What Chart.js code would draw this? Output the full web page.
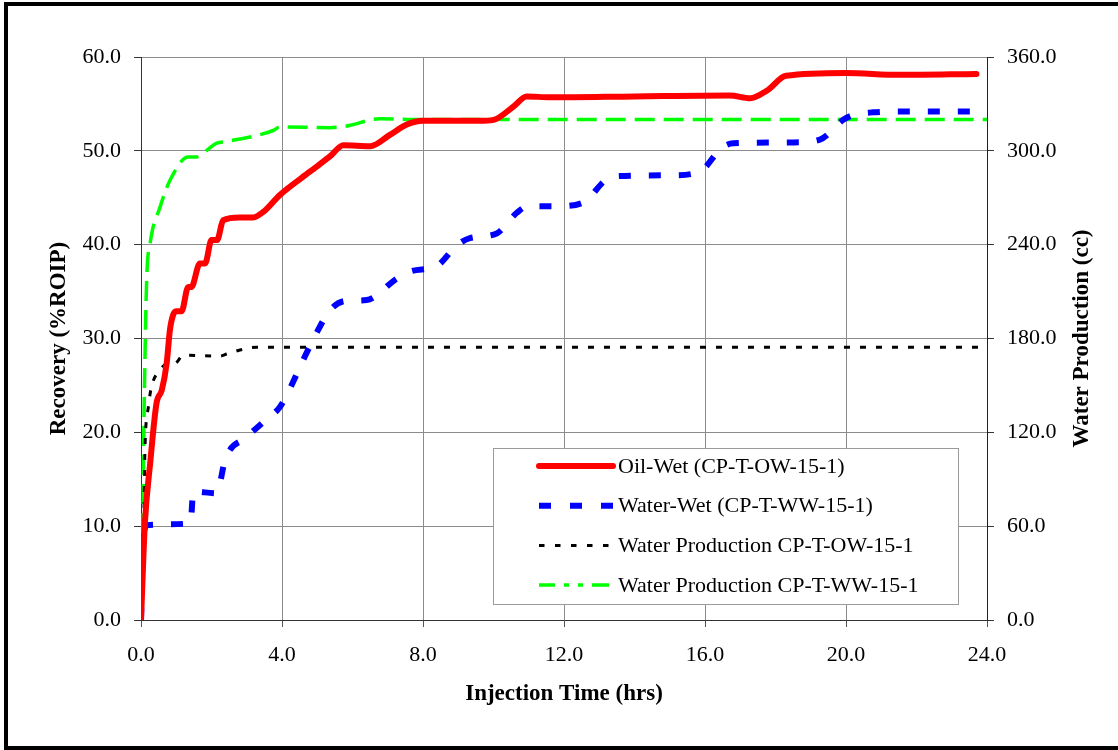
<!DOCTYPE html>
<html>
<head>
<meta charset="utf-8">
<script src="https://cdn.jsdelivr.net/npm/chart.js@4.4.1/dist/chart.umd.min.js"></script>
<style>
  body { margin: 0; background: #fff; }
</style>
</head>
<body>
<canvas id="myChart" width="1118" height="750"></canvas>
<script>
// values
const oilWetTime = [0, 0.11, 0.26, 0.44, 0.59, 0.73, 0.82, 0.92, 1.01, 1.15, 1.34, 1.43, 1.67, 1.82, 2.0, 2.16, 2.33, 2.8, 3.18, 3.47, 3.94, 4.8, 5.36, 5.74, 6.5, 7.06, 7.54, 8.0, 9.6, 10.0, 10.56, 10.94, 11.6, 14.0, 16.7, 17.28, 17.75, 18.3, 20.0, 21.5, 23.7];
const oilWetRecovery = [0, 10.3, 16.7, 23.1, 24.5, 27.4, 30.9, 32.6, 32.9, 32.9, 35.5, 35.5, 38.0, 38.0, 40.5, 40.5, 42.6, 42.9, 42.9, 43.5, 45.3, 47.8, 49.4, 50.6, 50.5, 51.7, 52.8, 53.2, 53.2, 53.3, 54.7, 55.8, 55.7, 55.8, 55.9, 55.6, 56.4, 58.0, 58.3, 58.1, 58.2];

const waterWetTime = [0, 0.06, 0.16, 1.39, 1.43, 1.48, 2.14, 2.24, 2.38, 3.0, 3.47, 3.94, 4.23, 4.6, 4.94, 5.36, 5.8, 6.4, 7.26, 7.68, 8.38, 8.95, 9.33, 10.09, 10.66, 10.98, 11.79, 12.55, 13.16, 13.49, 15.1, 15.86, 16.47, 16.8, 18.5, 19.26, 19.92, 20.2, 20.77, 21.7, 24.0];
const waterWetRecovery = [0, 7.8, 10.1, 10.3, 11.2, 13.7, 13.5, 14.6, 17.0, 19.5, 21.1, 22.7, 24.7, 27.7, 30.3, 33.0, 34.0, 34.1, 36.4, 37.2, 37.7, 39.9, 40.7, 41.2, 43.4, 44.1, 44.1, 44.5, 46.8, 47.3, 47.4, 47.8, 50.3, 50.8, 50.9, 51.2, 53.3, 53.8, 54.1, 54.2, 54.2];

const owWaterTime = [0, 0.07, 0.11, 0.21, 0.3, 0.54, 0.78, 0.96, 1.2, 2.24, 2.43, 2.81, 3.28, 24.0];
const owWaterProd = [0, 46.9, 106.8, 136.4, 149.2, 159.9, 164.1, 164.1, 169.3, 168.8, 170.1, 172.6, 174.4, 174.4];

const wwWaterTime = [0, 0.05, 0.07, 0.11, 0.16, 0.26, 0.54, 0.82, 1.34, 1.53, 2.15, 2.43, 3.75, 3.94, 5.36, 5.84, 6.78, 7.72, 24.0];
const wwWaterProd = [0, 36.3, 100, 164, 217, 241, 264, 281, 296, 296, 305, 306, 313, 315.3, 314.8, 315.9, 320.5, 320, 320];

const seriesLabels = ["Oil-Wet (CP-T-OW-15-1)", "Water-Wet (CP-T-WW-15-1)", "Water Production CP-T-OW-15-1", "Water Production CP-T-WW-15-1"];

const serif = "'Liberation Serif', 'Times New Roman', serif";
Chart.defaults.font.family = serif;
Chart.defaults.color = "#000";

const toPoints = (xs, ys) => xs.map((x, i) => ({ x: x, y: ys[i] }));
const fmt = (v) => Number(v).toFixed(1);

const whiteBg = {
  id: "whiteBg",
  beforeDraw(chart) {
    const c = chart.ctx;
    c.save();
    c.fillStyle = "#fff";
    c.fillRect(0, 0, chart.width, chart.height);
    c.restore();
  },
};

const extras = {
  id: "extras",
  afterDatasetsDraw(chart) {
    const c = chart.ctx;
    c.save();
    // legend box inside the plot
    c.fillStyle = "#fff";
    c.fillRect(493, 448, 465, 156);
    c.strokeStyle = "#9a9a9a";
    c.lineWidth = 1;
    c.strokeRect(493.5, 448.5, 465, 156);
    chart.data.datasets.forEach((ds, i) => {
      const y = 466 + i * 39.7;
      c.beginPath();
      c.setLineDash(ds.legendDash || []);
      c.lineWidth = ds.borderWidth;
      c.strokeStyle = ds.borderColor;
      c.lineCap = ds.borderCapStyle || "butt";
      c.moveTo(539, y);
      c.lineTo(613, y);
      c.stroke();
      c.setLineDash([]);
      c.fillStyle = "#000";
      c.font = "22px " + serif;
      c.textBaseline = "middle";
      c.fillText(ds.label, 618, y + 1);
    });
    // right axis title reads bottom to top
    c.translate(1082, 338.5);
    c.rotate(-Math.PI / 2);
    c.font = "bold 23px " + serif;
    c.textAlign = "center";
    c.textBaseline = "middle";
    c.fillText("Water Production (cc)", 0, 0);
    c.restore();
  },
  afterDraw(chart) {
    const c = chart.ctx;
    c.save();
    c.fillStyle = "#000";
    c.fillRect(4, 2, chart.width, 4);
    c.fillRect(4, 2, 4, 748);
    c.fillRect(4, 746, chart.width, 4);
    c.restore();
  },
};

new Chart(document.getElementById("myChart"), {
  type: "line",
  data: {
    datasets: [
      {
        label: seriesLabels[0],
        data: toPoints(oilWetTime, oilWetRecovery),
        borderColor: "#ff0000",
        borderWidth: 6,
        borderCapStyle: "round",
        yAxisID: "y",
        order: 1,
      },
      {
        label: seriesLabels[1],
        data: toPoints(waterWetTime, waterWetRecovery),
        borderColor: "#0000ff",
        borderWidth: 6,
        borderDash: [12, 18],
        legendDash: [12, 19],
        yAxisID: "y",
        order: 2,
      },
      {
        label: seriesLabels[2],
        data: toPoints(owWaterTime, owWaterProd),
        borderColor: "#000000",
        borderWidth: 3,
        borderDash: [6, 10],
        legendDash: [5.5, 10.5],
        yAxisID: "y1",
        order: 3,
      },
      {
        label: seriesLabels[3],
        data: toPoints(wwWaterTime, wwWaterProd),
        borderColor: "#00ff00",
        borderWidth: 3.5,
        borderDash: [20, 9],
        legendDash: [16, 9, 5, 9, 5, 9, 17],
        yAxisID: "y1",
        order: 4,
      },
    ],
  },
  options: {
    responsive: false,
    animation: false,
    layout: { padding: { left: 45, top: 57, right: 0, bottom: 42 } },
    elements: {
      point: { radius: 0 },
      line: { cubicInterpolationMode: "monotone", fill: false },
    },
    plugins: {
      legend: { display: false },
      tooltip: { enabled: false },
    },
    scales: {
      x: {
        type: "linear",
        min: 0,
        max: 24,
        ticks: { stepSize: 4, callback: fmt, font: { size: 22 }, padding: 15, maxRotation: 0 },
        grid: { color: "#8c8c8c", tickColor: "#555", tickLength: 7 },
        border: { color: "#333" },
        title: { display: true, text: "Injection Time (hrs)", font: { size: 23, weight: "bold" }, padding: 0 },
        afterFit: (s) => { s.height = 88; },
      },
      y: {
        position: "left",
        min: 0,
        max: 60,
        ticks: { stepSize: 10, callback: fmt, font: { size: 22 }, padding: 13 },
        grid: { color: "#8c8c8c", tickColor: "#333", tickLength: 7 },
        border: { color: "#333" },
        title: { display: true, text: "Recovery (%ROIP)", font: { size: 23, weight: "bold" }, padding: 0 },
        afterFit: (s) => { s.width = 96; },
      },
      y1: {
        position: "right",
        min: 0,
        max: 360,
        ticks: { stepSize: 60, callback: fmt, font: { size: 22 }, padding: 13 },
        grid: { drawOnChartArea: false, tickColor: "#333", tickLength: 7 },
        border: { color: "#222" },
        afterFit: (s) => { s.width = 131; },
      },
    },
  },
  plugins: [whiteBg, extras],
});
</script>
</body>
</html>
